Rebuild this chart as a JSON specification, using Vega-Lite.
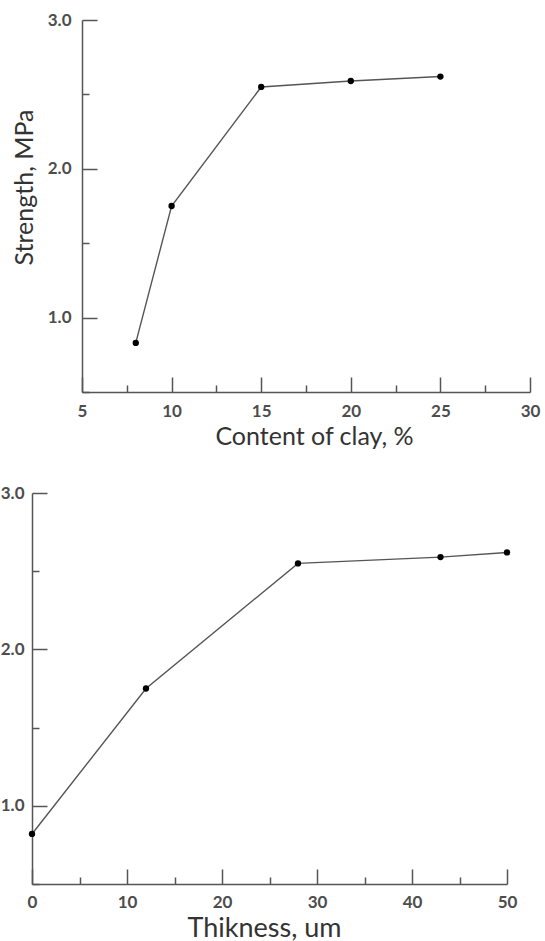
{
  "$schema": "https://vega.github.io/schema/vega-lite/v6.json",
  "background": "white",
  "padding": {"left": 0, "top": 11, "right": 4, "bottom": 0},
  "config": {
    "view": {"stroke": null},
    "font": "Lato",
    "axis": {
      "grid": false,
      "labelFlush": false,
      "domainColor": "#555",
      "domainWidth": 1.5,
      "tickColor": "#555",
      "tickWidth": 1.5,
      "labelFont": "Lato",
      "labelFontSize": 17,
      "labelFontWeight": "bold",
      "labelColor": "#4d4d4d",
      "titleFont": "Lato",
      "titleFontSize": 25,
      "titleFontWeight": "normal",
      "titleColor": "#333"
    }
  },
  "spacing": 35,
  "vconcat": [
    {
      "bounds": "flush",
      "spacing": 0,
      "hconcat": [
        {
          "width": 50,
          "height": 372,
          "data": {"values": []},
          "mark": "point"
        },
        {
          "width": 448,
          "height": 372,
          "data": {
            "values": [
              {"clay": 8, "strength": 0.83},
              {"clay": 10, "strength": 1.75},
              {"clay": 15, "strength": 2.55},
              {"clay": 20, "strength": 2.59},
              {"clay": 25, "strength": 2.62}
            ]
          },
          "encoding": {
            "x": {
              "field": "clay",
              "type": "quantitative",
              "scale": {"domain": [5, 30], "nice": false, "zero": false},
              "axis": {
                "title": "Content of clay, %",
                "values": [5, 7.5, 10, 12.5, 15, 17.5, 20, 22.5, 25, 27.5, 30],
                "labelExpr": "datum.value % 5 === 0 ? format(datum.value, 'd') : ''",
                "tickSize": {"condition": {"test": "datum.value % 5 === 0", "value": -15}, "value": -7},
                "labelPadding": 26,
                "titlePadding": 5,
                "titleX": 232
              }
            },
            "y": {
              "field": "strength",
              "type": "quantitative",
              "scale": {"domain": [0.5, 3.0], "nice": false, "zero": false},
              "axis": {
                "title": "Strength, MPa",
                "titleFontSize": 25,
                "values": [0.5, 1, 1.5, 2, 2.5, 3],
                "labelExpr": "datum.value % 1 === 0 ? format(datum.value, '.1f') : ''",
                "tickSize": {"condition": {"test": "datum.value % 1 === 0", "value": -15}, "value": -7},
                "labelPadding": 26,
                "titlePadding": 10,
                "titleY": 167
              }
            }
          },
          "layer": [
            {"mark": {"type": "line", "color": "#555", "strokeWidth": 1.4}},
            {"mark": {"type": "point", "filled": true, "color": "#000", "opacity": 1, "size": 40}}
          ]
        }
      ]
    },
    {
      "width": 475,
      "height": 391,
      "data": {
        "values": [
          {"thickness": 0, "strength": 0.82},
          {"thickness": 12, "strength": 1.75},
          {"thickness": 28, "strength": 2.55},
          {"thickness": 43, "strength": 2.59},
          {"thickness": 50, "strength": 2.62}
        ]
      },
      "encoding": {
        "x": {
          "field": "thickness",
          "type": "quantitative",
          "scale": {"domain": [0, 50], "nice": false, "zero": false},
          "axis": {
            "title": "Thikness, um",
            "titleFontSize": 27,
            "values": [0, 5, 10, 15, 20, 25, 30, 35, 40, 45, 50],
            "labelExpr": "datum.value % 10 === 0 ? format(datum.value, 'd') : ''",
            "tickSize": {"condition": {"test": "datum.value % 10 === 0", "value": -15}, "value": -7},
            "labelPadding": 25,
            "titlePadding": 5,
            "titleX": 232
          }
        },
        "y": {
          "field": "strength",
          "type": "quantitative",
          "scale": {"domain": [0.5, 3.0], "nice": false, "zero": false},
          "axis": {
            "title": null,
            "values": [0.5, 1, 1.5, 2, 2.5, 3],
            "labelExpr": "datum.value % 1 === 0 ? format(datum.value, '.1f') : ''",
            "tickSize": {"condition": {"test": "datum.value % 1 === 0", "value": -15}, "value": -7},
            "labelPadding": 23
          }
        }
      },
      "layer": [
        {"mark": {"type": "line", "color": "#555", "strokeWidth": 1.4}},
        {"mark": {"type": "point", "filled": true, "color": "#000", "opacity": 1, "size": 40}}
      ]
    }
  ]
}
